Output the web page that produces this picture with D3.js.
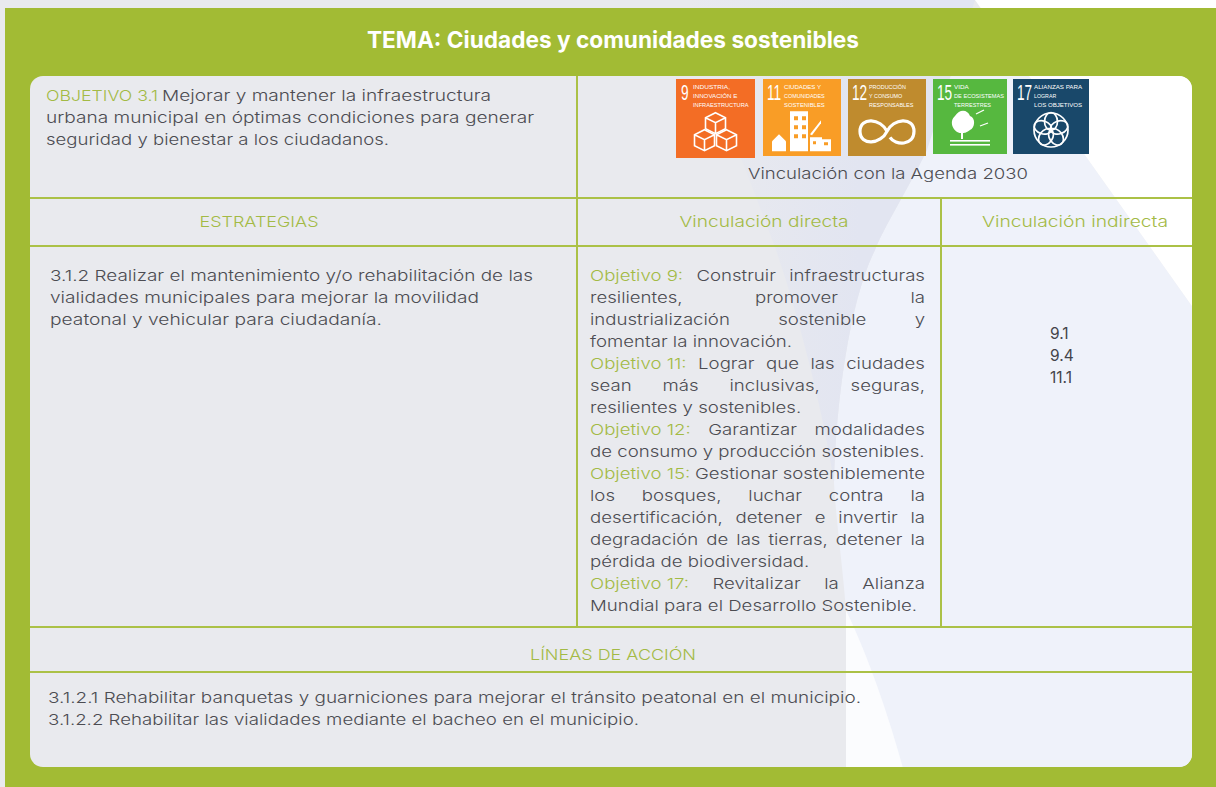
<!DOCTYPE html>
<html><head><meta charset="utf-8">
<script src="https://cdnjs.cloudflare.com/ajax/libs/d3/7.8.5/d3.min.js"></script>
<style>html,body{margin:0;padding:0;background:#e9eaee;overflow:hidden}svg{display:block}text{font-family:Inter,Lato,sans-serif}</style>
</head><body><svg id="c" width="1216" height="787"></svg>
<script>
const title = "TEMA: Ciudades y comunidades sostenibles";
const objetivoLabel = "OBJETIVO 3.1";
const objetivoLines = ["Mejorar y mantener la infraestructura","urbana municipal en óptimas condiciones para generar","seguridad y bienestar a los ciudadanos."];
const headers = ["ESTRATEGIAS","Vinculación directa","Vinculación indirecta"];
const estrategia = ["3.1.2 Realizar el mantenimiento y/o rehabilitación de las","vialidades municipales para mejorar la movilidad","peatonal y vehicular para ciudadanía."];
const directa = [
 ["Objetivo 9:","Construir infraestructuras"],["","resilientes, promover la"],["","industrialización sostenible y"],["","fomentar la innovación.",1],
 ["Objetivo 11:","Lograr que las ciudades"],["","sean más inclusivas, seguras,"],["","resilientes y sostenibles.",1],
 ["Objetivo 12:","Garantizar modalidades"],["","de consumo y producción sostenibles.",1],
 ["Objetivo 15:","Gestionar sosteniblemente"],["","los bosques, luchar contra la"],["","desertificación, detener e invertir la"],["","degradación de las tierras, detener la"],["","pérdida de biodiversidad.",1],
 ["Objetivo 17:","Revitalizar la Alianza"],["","Mundial para el Desarrollo Sostenible.",1]];
const indirecta = ["9.1","9.4","11.1"];
const lineasTitulo = "LÍNEAS DE ACCIÓN";
const lineas = ["3.1.2.1 Rehabilitar banquetas y guarniciones para mejorar el tránsito peatonal en el municipio.","3.1.2.2 Rehabilitar las vialidades mediante el bacheo en el municipio."];
const ods = [
 {n:"9",t:["INDUSTRIA,","INNOVACIÓN E","INFRAESTRUCTURA"],c:"#f36d25",x:676,w:79,y:79,h:79},
 {n:"11",t:["CIUDADES Y","COMUNIDADES","SOSTENIBLES"],c:"#f99d26",x:763,w:78,y:79,h:77},
 {n:"12",t:["PRODUCCIÓN","Y CONSUMO","RESPONSABLES"],c:"#bf8b2e",x:848,w:78,y:79,h:77},
 {n:"15",t:["VIDA","DE ECOSISTEMAS","TERRESTRES"],c:"#56b83f",x:933,w:74,y:79,h:75},
 {n:"17",t:["ALIANZAS PARA","LOGRAR","LOS OBJETIVOS"],c:"#19486a",x:1013,w:76,y:79,h:75}];
const green="#a2bb34", lineGreen="#abc146", labelGreen="#a3ba45", ink="#4c4c52";

const svg=d3.select("#c");
const defs=svg.append("defs");
defs.append("clipPath").attr("id","panel").append("rect").attr("x",30).attr("y",76).attr("width",1162).attr("height",691).attr("rx",13);
const lg=defs.append("linearGradient").attr("id","band").attr("gradientUnits","userSpaceOnUse").attr("x1",690).attr("x2",860).attr("y1",0).attr("y2",0);
lg.append("stop").attr("offset",0).attr("stop-color","#e9eaee");
lg.append("stop").attr("offset",1).attr("stop-color","#e2e5f1");
const whiteTop="M975,0L1216,0L1216,340Z";
const bgShapes=[
 {c:"#eff2fa",p:"M880,0L975,0L1216,340L1216,787L905,787C885,710 862,650 846,610C842,560 836,520 834,483C836,400 850,300 875,250C885,225 905,195 927,150Z"},
 {c:"#fbfcfe",p:"M846,610L846,787L908,787C888,710 865,650 846,610Z"},
 {c:"#ffffff",p:whiteTop},
 {c:"url(#band)",p:"M680,0L975,0L927,150C905,195 885,225 875,250C850,300 836,400 834,483C825,420 800,320 776,250C750,180 710,80 680,0Z"}
];
svg.append("rect").attr("width",1216).attr("height",787).attr("fill","#e9eaee");
svg.append("path").attr("d",bgShapes[3].p).attr("fill",bgShapes[3].c);
svg.append("path").attr("d",whiteTop).attr("fill","#fff");
svg.append("rect").attr("x",5).attr("y",8).attr("width",1211).attr("height",779).attr("fill",green);
const g=svg.append("g").attr("clip-path","url(#panel)");
g.append("rect").attr("x",30).attr("y",76).attr("width",1162).attr("height",691).attr("fill","#e9eaee");
g.selectAll("path").data(bgShapes).join("path").attr("d",d=>d.p).attr("fill",d=>d.c);

const lines=[[30,198,1192,198],[30,246,1192,246],[30,627,1192,627],[30,672,1192,672],[577,76,577,627],[941,198,941,627]];
svg.append("g").selectAll("line").data(lines).join("line")
 .attr("x1",d=>d[0]).attr("y1",d=>d[1]).attr("x2",d=>d[2]).attr("y2",d=>d[3])
 .attr("stroke",lineGreen).attr("stroke-width",2);

const size=15;
function txt(x,y,s,o={}){return svg.append("text").attr("x",x).attr("y",y).text(s)
 .attr("font-size",o.size||size).attr("fill",o.fill||ink).attr("text-anchor",o.anchor||"start")
 .attr("font-weight",o.weight||300);}
function fit(t,w){t.attr("textLength",w).attr("lengthAdjust","spacingAndGlyphs");return t;}

fit(txt(613,48,title,{size:23,fill:"#fff",weight:700,anchor:"middle"}),492);
fit(txt(46,101,objetivoLabel,{fill:labelGreen}),112);
fit(txt(162,101,objetivoLines[0]),329);
fit(txt(46,123,objetivoLines[1]),488);
fit(txt(46,145,objetivoLines[2]),343);
fit(txt(259,227,headers[0],{fill:labelGreen,anchor:"middle"}),119);
fit(txt(764,227,headers[1],{fill:labelGreen,anchor:"middle"}),169);
fit(txt(1075,227,headers[2],{fill:labelGreen,anchor:"middle"}),186);
fit(txt(50,280.5,estrategia[0]),483);
fit(txt(50,302.5,estrategia[1]),429);
fit(txt(50,324.5,estrategia[2]),332);

// justified column
const L=590,R=925,lh=22.05,y0=280.5;
const meas=svg.append("text").attr("font-size",size).attr("font-weight",300).style("visibility","hidden");
const wOf=s=>{meas.text(s);return meas.node().getComputedTextLength();};
const scale=327/wOf(directa[15][1]);
const spaceW=wOf("a b")-wOf("ab");
directa.forEach((d,i)=>{
  const y=y0+i*lh;
  const toks=[];
  if(d[0]) toks.push({s:d[0],c:labelGreen});
  d[1].split(" ").forEach(s=>toks.push({s,c:ink}));
  const ws=toks.map(t=>wOf(t.s)*scale);
  const total=d3.sum(ws);
  const gap=d[2]?spaceW*scale:(R-L-total)/(toks.length-1);
  let x=L;
  toks.forEach((t,k)=>{fit(txt(x,y,t.s,{fill:t.c}),ws[k]);x+=ws[k]+gap;});
});
meas.remove();
indirecta.forEach((s,i)=>txt(1050,339+i*22,s,{fill:"#44444a",size:15.5,weight:400}));
fit(txt(613,660,lineasTitulo,{fill:labelGreen,anchor:"middle",size:15}),166);
fit(txt(48,703,lineas[0]),813);
fit(txt(48,725,lineas[1]),591);

// SDG tiles
const tile=svg.append("g").selectAll("g").data(ods).join("g").attr("transform",d=>`translate(${d.x},${d.y})`);
tile.append("rect").attr("width",d=>d.w).attr("height",d=>d.h).attr("fill",d=>d.c);
tile.append("text").text(d=>d.n).attr("transform",d=>`translate(${d.n.length>1?4:5},21) scale(0.62,1)`).attr("fill","#fff").attr("font-size",22).attr("font-weight",400)
 .style("font-family","'Liberation Sans',sans-serif");
tile.each(function(d){
  const s=d3.select(this);
  const lx=d.n.length>1?21:17;
  d.t.forEach((l,i)=>s.append("text").text(l).attr("x",lx).attr("y",10+i*9).attr("fill","#fff")
   .attr("font-size",6).attr("font-weight",400).style("font-family","'Liberation Sans Narrow','Liberation Sans',sans-serif")
   .attr("textLength",Math.min(l.length*3.7,d.w-lx-3)).attr("lengthAdjust","spacingAndGlyphs"));
  const cx=d.w/2, cy=d.h*0.68;
  const ic=s.append("g").attr("transform",`translate(${cx},${cy})`).attr("fill","none").attr("stroke","#fff").attr("stroke-width",2.4);
  if(d.n==="9"){
    [[0,-10],[-11,7],[11,7]].forEach(p=>ic.append("path").attr("transform",`translate(${p[0]},${p[1]})`).attr("stroke-width",1.6).attr("d","M0,-10L10,-5L10,6L0,11L-10,6L-10,-5ZM-10,-5L0,0L10,-5M0,0L0,11"));
  } else if(d.n==="11"){
    ic.attr("stroke","none").attr("fill","#fff");
    ic.append("path").attr("fill-rule","evenodd").attr("d","M-12,20L-12,-20L6,-20L6,20ZM-8,-15h4v4h-4ZM0,-15h4v4h-4ZM-8,-6h4v4h-4ZM0,-6h4v4h-4ZM-8,3h4v4h-4ZM0,3h4v4h-4Z");
    ic.append("path").attr("d","M-30,20L-30,10L-23,3L-16,10L-16,20Z");
    ic.append("path").attr("fill-rule","evenodd").attr("d","M8,20L8,6L20,6L20,8L29,8L29,20ZM11,10h3v3h-3ZM22,11h4v3h-4Z");
    ic.append("path").attr("d","M8,3L19,-11L19,-8L10,4Z");
  } else if(d.n==="12"){
    ic.attr("stroke-width",3.2).append("path").attr("d","M0,0C-6,-13 -27,-15 -27,0C-27,15 -6,13 0,0C6,-13 27,-15 27,0C27,15 8,14 3,6");
  } else if(d.n==="15"){
    ic.attr("stroke","none").attr("fill","#fff");
    ic.append("path").attr("d","M-15,-14C-10,-22 -2,-20 0,-14C6,-12 5,-2 0,0C-4,3 -6,3 -7,3L-7,9L-9,9L-9,3C-16,3 -22,-8 -15,-14Z");
    ic.append("rect").attr("x",-20).attr("y",10).attr("width",40).attr("height",1.6);
    ic.append("rect").attr("x",-20).attr("y",14).attr("width",40).attr("height",1.6);
    ic.append("path").attr("stroke","#fff").attr("stroke-width",1.3).attr("d","M6,-16L14,-20M10,-4L18,-7");
  } else {
    ic.attr("stroke-width",1.7);
    ic.append("circle").attr("r",17);
    d3.range(5).forEach(k=>ic.append("ellipse").attr("rx",6.5).attr("ry",9).attr("cy",-8.5).attr("transform",`rotate(${k*72})`));
  }
});
fit(txt(888,179,"Vinculación con la Agenda 2030",{anchor:"middle"}),280);
</script></body></html>
